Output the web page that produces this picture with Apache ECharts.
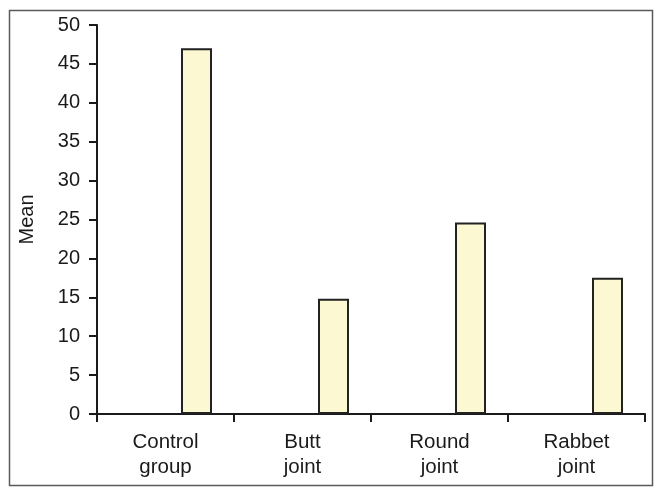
<!DOCTYPE html>
<html>
<head>
<meta charset="utf-8">
<script src="https://cdn.jsdelivr.net/npm/echarts@6/dist/echarts.min.js"></script>
<style>
html,body{margin:0;padding:0;background:#fff;}
#chart{width:658px;height:487px;}
</style>
</head>
<body>
<div id="chart"></div>
<script>
const categories = ['Control\ngroup', 'Butt\njoint', 'Round\njoint', 'Rabbet\njoint'];
const meanValues = [47, 14.8, 24.6, 17.5];
const yTicks = { min: 0, max: 50, interval: 5 };

const chart = echarts.init(document.getElementById('chart'), null, { renderer: 'canvas' });
const emptySeries = categories.map(() => '-');
const font = 'Liberation Sans, Arial, sans-serif';

chart.setOption({
  animation: false,
  backgroundColor: '#fff',
  graphic: [{
    type: 'rect',
    shape: { x: 9.5, y: 10.5, width: 643, height: 475 },
    style: { fill: 'none', stroke: '#5a5a5a', lineWidth: 1.5 },
    silent: true
  }],
  grid: { left: 97, right: 13, top: 25, bottom: 73, containLabel: false },
  xAxis: {
    type: 'category',
    data: categories,
    axisLine: { lineStyle: { color: '#1a1a1a', width: 2 } },
    axisTick: { show: true, length: 8, lineStyle: { color: '#1a1a1a', width: 2 } },
    axisLabel: { color: '#1a1a1a', fontSize: 20.5, fontFamily: font, margin: 16, lineHeight: 25, interval: 0 },
    splitLine: { show: false }
  },
  yAxis: {
    type: 'value',
    min: yTicks.min, max: yTicks.max, interval: yTicks.interval,
    name: 'Mean',
    nameLocation: 'middle',
    nameRotate: 90,
    nameGap: 60,
    nameTextStyle: { color: '#1a1a1a', fontSize: 20, fontFamily: font },
    axisLine: { show: true, lineStyle: { color: '#1a1a1a', width: 2 } },
    axisTick: { show: true, length: 8, lineStyle: { color: '#1a1a1a', width: 2 } },
    axisLabel: { color: '#1a1a1a', fontSize: 20, fontFamily: font, margin: 17 },
    splitLine: { show: false }
  },
  series: [
    { type: 'bar', data: emptySeries, barWidth: 31, barGap: 0 },
    { type: 'bar', data: emptySeries, barWidth: 31, barGap: 0 },
    {
      type: 'bar', data: meanValues, barWidth: 31, barGap: 0,
      itemStyle: { color: '#fbf8d2', borderColor: '#222', borderWidth: 2 }
    }
  ]
});
</script>
</body>
</html>
